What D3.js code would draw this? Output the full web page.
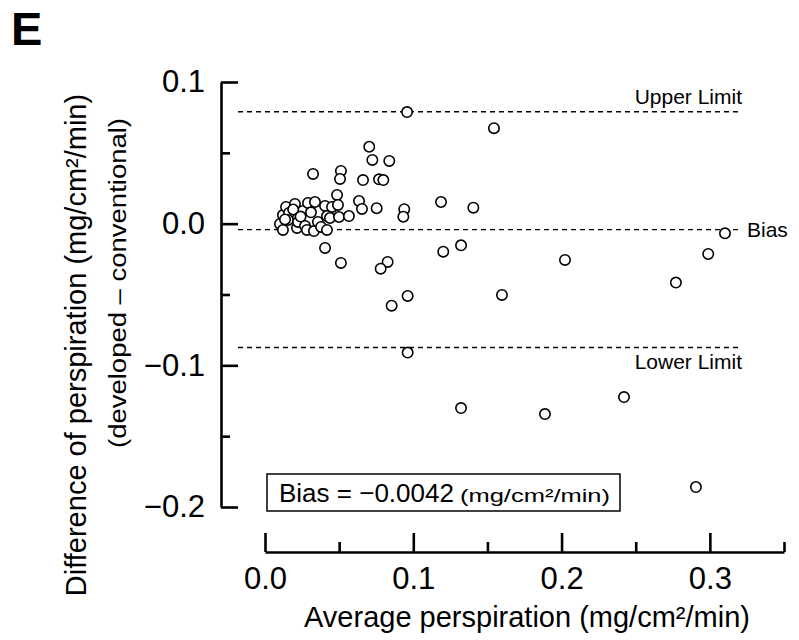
<!DOCTYPE html>
<html>
<head>
<meta charset="utf-8">
<script src="https://cdn.jsdelivr.net/npm/d3@7"></script>
<style>
  body { margin: 0; background: #fff; }
  svg { font-family: "Liberation Sans", Arial, Helvetica, sans-serif; }
</style>
</head>
<body>
<svg id="chart" width="799" height="640"></svg>
<script>
// Bland-Altman data: average perspiration vs difference (developed - conventional)
var avgValues = [
  0.0101, 0.0121, 0.0121, 0.0142, 0.0162, 0.0155, 0.0202, 0.0216, 0.0223, 0.0256,
  0.0270, 0.0283, 0.0290, 0.0324, 0.0337, 0.0330, 0.0357, 0.0378, 0.0405, 0.0418,
  0.0418, 0.0438, 0.0452, 0.0405, 0.0486, 0.0492, 0.0499, 0.0512, 0.0506, 0.0512,
  0.0566, 0.0634, 0.0654, 0.0661, 0.0958, 0.1544, 0.0703, 0.0724, 0.0838, 0.0769,
  0.0798, 0.0753, 0.0939, 0.0933, 0.1187, 0.1405, 0.3102, 0.2989, 0.2771, 0.2023,
  0.1202, 0.1322, 0.0827, 0.0780, 0.0962, 0.0854, 0.1598, 0.0962, 0.1322, 0.1888,
  0.2421, 0.2906, 0.0135, 0.0190, 0.0240, 0.0310
];
var diffValues = [
  -0.0002, -0.0044, 0.0061, 0.0118, 0.0076, 0.0026, 0.0139, -0.0030, 0.0012, 0.0090,
  -0.0016, -0.0044, 0.0146, 0.0351, 0.0153, -0.0052, 0.0012, -0.0023, 0.0125, 0.0054,
  -0.0044, 0.0040, 0.0118, -0.0171, 0.0203, 0.0132, 0.0047, 0.0372, 0.0316, -0.0277,
  0.0054, 0.0160, 0.0104, 0.0308, 0.0788, 0.0674, 0.0543, 0.0450, 0.0443, 0.0313,
  0.0308, 0.0109, 0.0102, 0.0049, 0.0153, 0.0113, -0.0068, -0.0214, -0.0416, -0.0256,
  -0.0198, -0.0153, -0.0270, -0.0318, -0.0510, -0.0579, -0.0503, -0.0910, -0.1302, -0.1344,
  -0.1224, -0.1859, 0.0030, 0.0100, 0.0050, 0.0080
];

var bias = -0.0042;
var upperLimit = 0.0790;
var lowerLimit = -0.0874;

var xTicks = [0, 0.1, 0.2, 0.3];
var xMinorTicks = [0.05, 0.15, 0.25, 0.35];
var yTicks = [0.1, 0.0, -0.1, -0.2];
var yMinorTicks = [0.05, -0.05, -0.15];

var points = avgValues.map(function (d, i) {
  return { avg: d, diff: diffValues[i] };
});

var svg = d3.select("#chart");

var x = d3.scaleLinear().domain([0, 0.35]).range([265, 784]);
var y = d3.scaleLinear().domain([-0.2, 0.1]).range([507, 82]);

var yAxisX = 221;
var xAxisY = 552;

// panel letter
svg.append("text")
  .attr("x", 11)
  .attr("y", 45)
  .attr("font-size", 47)
  .attr("font-weight", "bold")
  .text("E");

// reference lines
var refLines = [
  { v: upperLimit },
  { v: bias },
  { v: lowerLimit }
];
svg.selectAll(".ref")
  .data(refLines)
  .enter()
  .append("line")
  .attr("class", "ref")
  .attr("x1", yAxisX + 17)
  .attr("x2", 742)
  .attr("y1", function (d) { return y(d.v); })
  .attr("y2", function (d) { return y(d.v); })
  .attr("stroke", "#000")
  .attr("stroke-width", 1.3)
  .attr("stroke-dasharray", "5,4");

svg.append("text")
  .attr("x", 742).attr("y", y(upperLimit) - 8)
  .attr("text-anchor", "end")
  .attr("font-size", 21)
  .text("Upper Limit");

svg.append("text")
  .attr("x", 742).attr("y", y(lowerLimit) + 22)
  .attr("text-anchor", "end")
  .attr("font-size", 21)
  .text("Lower Limit");

svg.append("text")
  .attr("x", 747).attr("y", y(bias) + 7)
  .attr("font-size", 21)
  .text("Bias");

// y axis
var yAxis = d3.axisLeft(y)
  .tickValues(yTicks)
  .tickSize(-17)
  .tickSizeOuter(0)
  .tickPadding(16)
  .tickFormat(d3.format(".1f"));

svg.append("g")
  .attr("transform", "translate(" + yAxisX + ",0)")
  .call(yAxis);

svg.append("g")
  .attr("transform", "translate(" + yAxisX + ",0)")
  .call(d3.axisLeft(y).tickValues(yMinorTicks).tickSize(-9).tickSizeOuter(0).tickFormat(""))
  .select(".domain").remove();

// x axis
var xAxis = d3.axisBottom(x)
  .tickValues(xTicks)
  .tickSize(-19)
  .tickSizeOuter(0)
  .tickPadding(15)
  .tickFormat(d3.format(".1f"));

svg.append("g")
  .attr("transform", "translate(0," + xAxisY + ")")
  .call(xAxis);

svg.append("g")
  .attr("transform", "translate(0," + xAxisY + ")")
  .call(d3.axisBottom(x).tickValues(xMinorTicks).tickSize(-10).tickSizeOuter(0).tickFormat(""))
  .select(".domain").remove();

svg.selectAll(".domain, .tick line")
  .attr("stroke", "#000")
  .attr("stroke-width", 2.6);

svg.selectAll(".tick text")
  .attr("font-size", 31)
  .attr("font-family", "'Liberation Sans', Arial, sans-serif")
  .attr("fill", "#000");

// axis titles
svg.append("text")
  .attr("x", 527)
  .attr("y", 627)
  .attr("text-anchor", "middle")
  .attr("font-size", 29)
  .text("Average perspiration (mg/cm\u00b2/min)");

svg.append("text")
  .attr("transform", "translate(86,345) rotate(-90)")
  .attr("text-anchor", "middle")
  .attr("font-size", 29)
  .text("Difference of perspiration (mg/cm\u00b2/min)");

svg.append("text")
  .attr("transform", "translate(126,283) rotate(-90)")
  .attr("text-anchor", "middle")
  .attr("font-size", 23)
  .attr("textLength", 330)
  .attr("lengthAdjust", "spacingAndGlyphs")
  .text("(developed \u2013 conventional)");

// bias box
svg.append("rect")
  .attr("x", 267).attr("y", 474)
  .attr("width", 353).attr("height", 37)
  .attr("fill", "#fff")
  .attr("stroke", "#000")
  .attr("stroke-width", 1.5);

svg.append("text")
  .attr("x", 279)
  .attr("y", 502)
  .attr("font-size", 26)
  .text("Bias = \u22120.0042");

svg.append("text")
  .attr("x", 460)
  .attr("y", 502)
  .attr("font-size", 19)
  .attr("textLength", 150)
  .attr("lengthAdjust", "spacingAndGlyphs")
  .text("(mg/cm\u00b2/min)");

// points
svg.selectAll(".pt")
  .data(points)
  .enter()
  .append("circle")
  .attr("class", "pt")
  .attr("cx", function (d) { return x(d.avg); })
  .attr("cy", function (d) { return y(d.diff); })
  .attr("r", 5.2)
  .attr("fill", "#fff")
  .attr("stroke", "#000")
  .attr("stroke-width", 1.6);
</script>
</body>
</html>
